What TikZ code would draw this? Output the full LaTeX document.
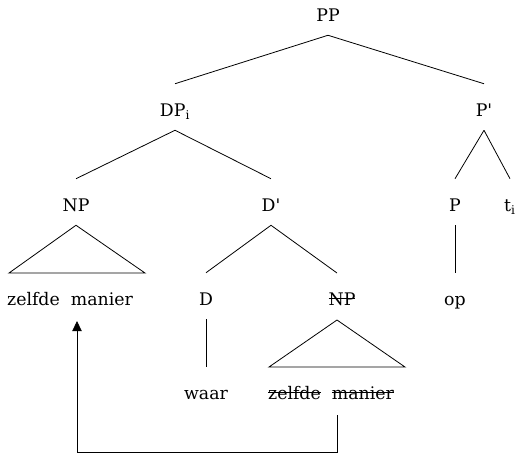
\documentclass[tikz,border=0pt]{standalone}
\usepackage{fontspec}
\setmainfont{DejaVu Serif}
\usetikzlibrary{arrows.meta}
\tikzset{
  lab/.style={anchor=base, inner xsep=0pt, inner ysep=0pt, text height=24pt, text depth=10.5pt, font=\fontsize{13}{15}\selectfont},
  edge/.style={draw, line width=0.6pt},
  mv/.style={draw, line width=0.6pt, -{Triangle[length=7.5pt,width=7pt]}}
}
\newcommand{\pr}{\textquotesingle}
\newsavebox{\strkbox}
\newcommand{\strk}[1]{\sbox{\strkbox}{#1}\rlap{\usebox{\strkbox}}\rule[0.33em]{\wd\strkbox}{0.6pt}}
\begin{document}
\begin{tikzpicture}[x=0.75pt,y=-0.75pt]
\useasboundingbox (0,0) rectangle (518,458);
% nodes (baseline = center + 6px)
\node[lab] (pp) at (328,21) {PP};
\node[lab] (dp) at (175,116) {DP\textsubscript{i}};
\node[lab] (pbar) at (484,116) {P\pr};
\node[lab] (np) at (76,211) {NP};
\node[lab] (dbar) at (271,211) {D\pr};
\node[lab] (p) at (455,211) {P};
\node[lab] (t) at (510,211) {t\textsubscript{i}};
\node[lab] (zm) at (70,305) {zelfde\ \ manier};
\node[lab] (d) at (206,305) {D};
\node[lab] (np2) at (342,305) {\strk{NP}};
\node[lab] (op) at (455,305) {op};
\node[lab] (waar) at (206,399) {waar};
\node[lab] (zm2) at (331,399) {\strk{zelfde}\ \ \strk{manier}};
% triangle corners and arrow path
\coordinate (t1l) at (9,273);
\coordinate (t1r) at (145,273);
\coordinate (t2a) at (337,320);
\coordinate (t2l) at (269,367);
\coordinate (t2r) at (405,367);
\coordinate (nr) at (337,273);
\coordinate (a1) at (337,415);
\coordinate (a2) at (77,452);
\coordinate (a3) at (77,321);
% edges
\path[edge] (pp.south) -- (dp.north);
\path[edge] (pp.south) -- (pbar.north);
\path[edge] (dp.south) -- (np.north);
\path[edge] (dp.south) -- (dbar.north);
\path[edge] (pbar.south) -- (p.north);
\path[edge] (pbar.south) -- (t.north);
\path[edge] (np.south) -- (t1l) -- (t1r) -- cycle;
\path[edge] (dbar.south) -- (d.north);
\path[edge] (dbar.south) -- (nr);
\path[edge] (p.south) -- (op.north);
\path[edge] (d.south) -- (waar.north);
\path[edge] (t2a) -- (t2l) -- (t2r) -- cycle;
\path[mv] (a1) |- (a2) -- (a3);
\end{tikzpicture}
\end{document}
